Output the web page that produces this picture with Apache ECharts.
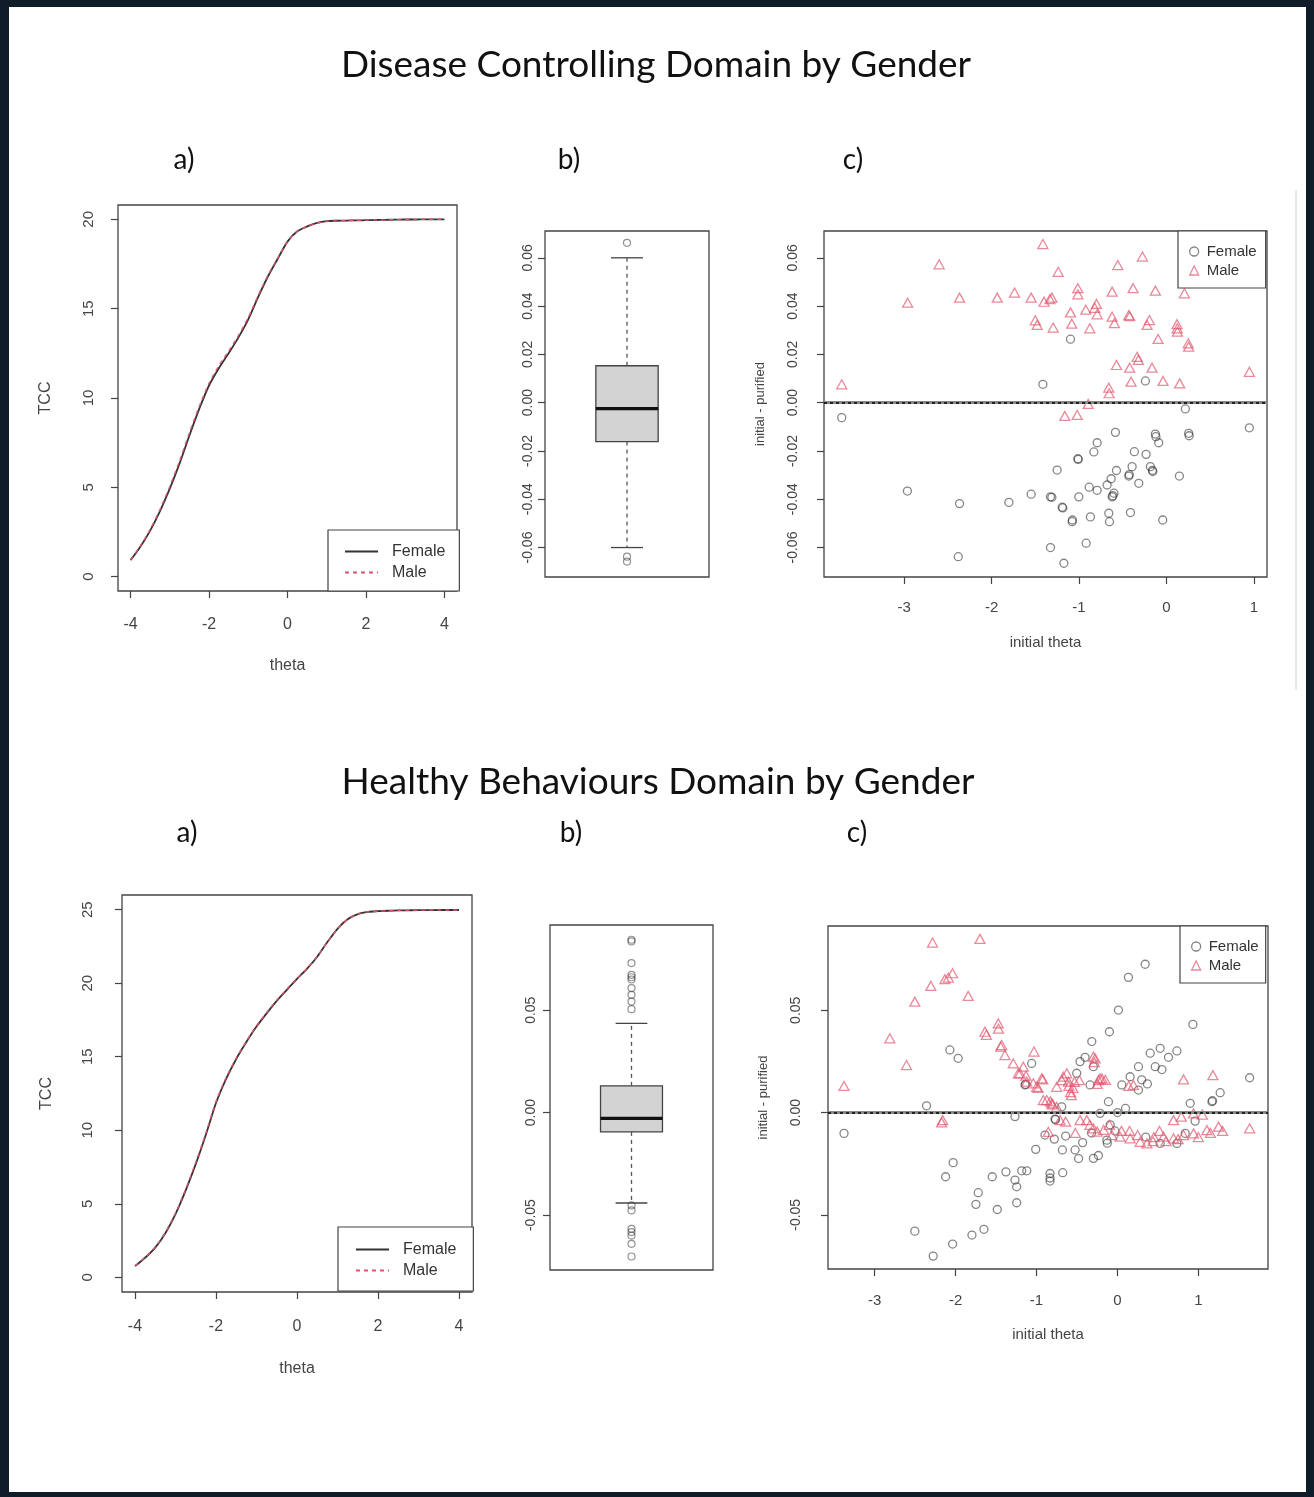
<!DOCTYPE html>
<html><head><meta charset="utf-8">
<script src="https://cdn.jsdelivr.net/npm/echarts@6/dist/echarts.min.js"></script>
<style>
html,body{margin:0;padding:0;background:#fff;}
#frame{position:absolute;left:0;top:0;width:1314px;height:1497px;box-sizing:border-box;border-style:solid;border-color:#0e1d29;border-width:7px 8px 5px 9px;background:#fff;}
#chart{position:absolute;left:0;top:0;width:1314px;height:1497px;}
</style></head><body>
<div id="frame"></div>
<div id="chart"></div>
<script>
// ---------- DATA ----------
const thetaGrid = [-4,-3.75,-3.5,-3.25,-3,-2.75,-2.5,-2.25,-2,-1.75,-1.5,-1.25,-1,-0.75,-0.5,-0.25,0,0.25,0.5,0.75,1,1.25,1.5,1.75,2,2.25,2.5,2.75,3,3.25,3.5,3.75,4];
const tccDiseaseFemale = [0.93,1.68,2.58,3.67,4.93,6.34,7.9,9.39,10.7,11.67,12.5,13.39,14.4,15.64,16.8,17.79,18.75,19.33,19.6,19.8,19.9,19.92,19.93,19.94,19.95,19.96,19.97,19.98,19.99,19.99,20,20,20];
const tccDiseaseMale   = [0.95,1.72,2.64,3.76,5.05,6.48,8.05,9.52,10.82,11.8,12.62,13.5,14.5,15.72,16.86,17.82,18.76,19.33,19.6,19.79,19.88,19.91,19.93,19.94,19.95,19.96,19.97,19.98,19.99,19.99,20,20,20];
const tccHealthyFemale = [0.76,1.33,2.02,3.0,4.3,5.9,7.7,9.7,11.85,13.5,14.85,16.0,17.05,17.95,18.8,19.55,20.3,21.0,21.8,22.8,23.7,24.35,24.7,24.85,24.9,24.93,24.95,24.96,24.97,24.97,24.98,24.98,24.98];
const tccHealthyMale   = [0.78,1.36,2.06,3.05,4.36,5.98,7.8,9.8,11.95,13.58,14.9,16.05,17.1,18.0,18.85,19.6,20.33,21.02,21.82,22.8,23.7,24.36,24.72,24.86,24.9,24.93,24.95,24.96,24.97,24.97,24.98,24.98,24.98];

const tccTicksX = [-4,-2,0,2,4];
const tccDiseaseTicksY = [0,5,10,15,20];
const tccHealthyTicksY = [0,5,10,15,20,25];
const diseaseTicksY = [-0.06,-0.04,-0.02,0,0.02,0.04,0.06];
const healthyTicksY = [-0.05,0,0.05];
const scatterTicksX = [-3,-2,-1,0,1];

// boxplot stats: lower whisker, Q1, median, Q3, upper whisker
const diseaseBoxStats = [-0.060,-0.0161,-0.0025,0.0153,0.060];
const diseaseBoxOutliers = [0.0662,-0.0638,-0.0658];
const healthyBoxStats = [-0.0441,-0.0094,-0.0028,0.0131,0.0436];
const healthyBoxOutliers = [0.0844,0.0836,0.073,0.0673,0.0661,0.065,0.0608,0.0575,0.0542,0.0505,-0.0453,-0.0477,-0.0567,-0.0583,-0.06,-0.064,-0.0702];

// [initial theta, initial - purified]
const diseaseFemale = [[-3.714,-0.0062],[-1.097,0.0263],[-1.413,0.0076],[-0.24,0.009],[0.217,-0.0026],[0.949,-0.0104],[-2.963,-0.0366],[-2.366,-0.0418],[-2.381,-0.0638],[-1.802,-0.0413],[-1.547,-0.0379],[-1.326,-0.039],[-1.31,-0.0392],[-1.25,-0.0279],[-1.192,-0.0433],[-1.185,-0.0436],[-1.326,-0.06],[-1.173,-0.0665],[-1.078,-0.0493],[-1.075,-0.0486],[-1.013,-0.0232],[-1.008,-0.0235],[-1.002,-0.039],[-0.918,-0.0582],[-0.869,-0.0473],[-0.883,-0.035],[-0.792,-0.0363],[-0.83,-0.0204],[-0.792,-0.0166],[-0.678,-0.0341],[-0.659,-0.0458],[-0.651,-0.0493],[-0.632,-0.0315],[-0.62,-0.039],[-0.612,-0.0385],[-0.6,-0.0375],[-0.571,-0.0281],[-0.583,-0.0123],[-0.43,-0.0304],[-0.425,-0.0298],[-0.411,-0.0455],[-0.392,-0.0265],[-0.366,-0.0203],[-0.316,-0.0334],[-0.232,-0.0214],[-0.183,-0.0265],[-0.16,-0.028],[-0.155,-0.0285],[-0.126,-0.013],[-0.12,-0.0141],[-0.088,-0.0166],[-0.042,-0.0486],[0.149,-0.0304],[0.255,-0.0127],[0.26,-0.0137]];
const diseaseMale = [[-3.714,0.0076],[-2.96,0.0414],[-2.60,0.0573],[-2.366,0.0435],[-1.935,0.0435],[-1.737,0.0456],[-1.547,0.0435],[-1.413,0.0657],[-1.40,0.0418],[-1.333,0.0429],[-1.31,0.0435],[-1.238,0.0542],[-1.50,0.0341],[-1.478,0.0322],[-1.295,0.0311],[-1.097,0.0374],[-1.082,0.0327],[-1.013,0.0474],[-1.013,0.0449],[-0.922,0.0385],[-0.876,0.0308],[-0.80,0.0409],[-0.792,0.0366],[-0.82,0.0393],[-0.621,0.0356],[-0.594,0.0329],[-0.621,0.046],[-0.556,0.057],[-0.43,0.0363],[-0.42,0.0358],[-0.381,0.0474],[-0.274,0.0605],[-0.221,0.0322],[-0.194,0.0342],[-0.126,0.0464],[-0.095,0.0264],[0.122,0.0325],[0.124,0.0308],[0.126,0.0294],[0.206,0.0453],[0.255,0.0232],[0.25,0.0246],[-0.571,0.0156],[-0.42,0.0145],[-0.335,0.019],[-0.32,0.0177],[-0.164,0.0145],[-0.404,0.0087],[-0.038,0.009],[0.152,0.008],[-0.659,0.0062],[-0.655,0.0039],[0.949,0.0128],[-0.895,-0.0005],[-1.162,-0.0055],[-1.02,-0.0051]];
const healthyFemale = [[-2.359,0.0033],[-2.071,0.0306],[-1.968,0.0265],[-1.06,0.024],[-1.142,0.0135],[-1.135,0.0138],[-0.317,0.0347],[-0.099,0.0395],[0.012,0.0501],[0.136,0.0661],[0.343,0.0725],[0.933,0.0431],[1.634,0.017],[0.405,0.029],[0.528,0.0314],[0.631,0.027],[0.735,0.0301],[0.467,0.0224],[0.55,0.021],[0.26,0.0224],[0.157,0.0175],[0.3,0.016],[0.26,0.011],[0.37,0.014],[0.054,0.0135],[-0.111,0.0053],[-0.462,0.0249],[-0.40,0.027],[-0.503,0.0192],[-0.297,0.0224],[-0.338,0.0135],[0.9,0.0045],[1.168,0.0053],[1.175,0.0058],[1.27,0.0097],[-0.688,0.0028],[-0.214,-0.0004],[0.0,0.0],[0.1,0.002],[-3.379,-0.0102],[-1.266,-0.002],[-0.771,-0.0032],[-0.765,-0.0035],[-2.03,-0.0245],[-2.124,-0.0314],[-1.72,-0.0392],[-1.749,-0.0449],[-1.547,-0.0314],[-1.378,-0.029],[-1.485,-0.0474],[-1.266,-0.033],[-1.245,-0.0363],[-1.245,-0.0441],[-1.183,-0.0285],[-1.12,-0.0285],[-1.65,-0.0571],[-1.798,-0.0599],[-2.037,-0.0643],[-2.504,-0.058],[-2.277,-0.0702],[-1.01,-0.018],[-0.833,-0.0298],[-0.833,-0.032],[-0.833,-0.0335],[-0.676,-0.0294],[-0.68,-0.0183],[-0.895,-0.011],[-0.78,-0.013],[-0.64,-0.0115],[-0.523,-0.0183],[-0.48,-0.0225],[-0.43,-0.0147],[-0.297,-0.0224],[-0.235,-0.021],[-0.32,-0.01],[-0.131,-0.0135],[-0.125,-0.015],[-0.09,-0.006],[-0.03,-0.009],[0.528,-0.0151],[0.735,-0.0151],[0.838,-0.0102],[0.96,-0.0042],[0.35,-0.012]];
const healthyMale = [[-3.379,0.013],[-2.813,0.0363],[-2.607,0.0232],[-2.504,0.0542],[-2.306,0.0619],[-2.285,0.0831],[-2.132,0.0652],[-2.037,0.0681],[-2.09,0.066],[-1.844,0.057],[-1.699,0.0849],[-1.637,0.0395],[-1.62,0.038],[-1.473,0.0436],[-1.47,0.041],[-1.443,0.0322],[-1.431,0.033],[-1.39,0.0281],[-1.287,0.024],[-1.225,0.0192],[-1.204,0.0192],[-1.163,0.0224],[-1.031,0.0298],[-1.13,0.018],[-1.121,0.0151],[-1.04,0.0143],[-0.998,0.0126],[-0.98,0.012],[-0.936,0.0167],[-0.923,0.0162],[-0.916,0.0061],[-0.874,0.0061],[-0.83,0.0055],[-0.812,0.0045],[-0.80,0.004],[-0.75,0.0028],[-0.75,0.0126],[-0.688,0.0159],[-0.668,0.0175],[-0.626,0.0192],[-0.606,0.0151],[-0.6,0.013],[-0.58,0.010],[-0.57,0.0085],[-0.55,0.012],[-0.53,0.015],[-0.47,0.0158],[-0.297,0.0273],[-0.285,0.0246],[-0.276,0.0265],[-0.235,0.0159],[-0.214,0.0167],[-0.19,0.0166],[-0.25,0.014],[-0.15,0.016],[0.14,0.013],[0.198,0.0135],[0.817,0.0162],[1.18,0.0183],[-2.16,-0.0037],[-2.173,-0.0048],[1.634,-0.0077],[-0.709,-0.0037],[-0.64,-0.0045],[-0.854,-0.0094],[-0.52,-0.01],[-0.462,-0.0037],[-0.379,-0.0037],[-0.34,-0.006],[-0.297,-0.0077],[-0.25,-0.0093],[-0.17,-0.0085],[-0.1,-0.006],[-0.069,-0.011],[0.033,-0.0118],[0.05,-0.009],[0.15,-0.009],[0.157,-0.0126],[0.25,-0.011],[0.281,-0.0143],[0.364,-0.0151],[0.44,-0.014],[0.45,-0.012],[0.52,-0.009],[0.569,-0.0118],[0.6,-0.014],[0.693,-0.0126],[0.693,-0.0037],[0.75,-0.013],[0.79,-0.002],[0.817,-0.011],[0.94,-0.0004],[0.941,-0.0102],[1.0,-0.012],[1.05,-0.001],[1.106,-0.0086],[1.15,-0.010],[1.25,-0.0069],[1.3,-0.009]];

// ---------- STYLE ----------
const FONT = 'Liberation Sans';
const AX = '#444';
const FEM_COL = 'rgba(45,45,45,0.72)';
const MALE_COL = 'rgba(223,83,107,0.85)';

function axis(gridIndex, min, max, ticks, labelSize, margin, fmt, extra) {
  const a = {
    type: 'value', gridIndex: gridIndex, min: min, max: max,
    axisLine: {show: false, onZero: false}, splitLine: {show: false},
    axisTick: {show: !!ticks, length: 7, lineStyle: {color: AX, width: 1.2}, customValues: ticks || undefined},
    axisLabel: {show: !!ticks, customValues: ticks || undefined, color: AX, fontFamily: FONT, fontSize: labelSize, margin: margin,
      formatter: fmt || function (v) { return String(v); }},
    nameLocation: 'middle',
    nameTextStyle: {color: AX, fontFamily: FONT, fontSize: 15}
  };
  return Object.assign(a, extra || {});
}
const f2 = v => v.toFixed(2);

function grid(l, t, w, h) {
  return {left: l, top: t, width: w, height: h, show: true, borderColor: '#444', borderWidth: 1.3,
    backgroundColor: 'transparent', containLabel: false, outerBoundsMode: 'none'};
}

function zip(xs, ys) { return xs.map((x, i) => [x, ys[i]]); }

function boxSeries(idx, stats) {
  return {
    type: 'custom', xAxisIndex: idx, yAxisIndex: idx, silent: true,
    data: [[1].concat(stats)],
    renderItem: function (params, api) {
      const xc = api.value(0), half = 0.19, cap = 0.0975;
      const lo = api.value(1), q1 = api.value(2), med = api.value(3), q3 = api.value(4), hi = api.value(5);
      const p = (x, y) => api.coord([x, y]);
      const ln = (a, b, st) => ({type: 'line', shape: {x1: a[0], y1: a[1], x2: b[0], y2: b[1]}, style: st});
      const solid = {stroke: '#444', lineWidth: 1.3};
      const dash = {stroke: '#555', lineWidth: 1.3, lineDash: [4, 4]};
      const tl = p(xc - half, q3), br = p(xc + half, q1);
      return {type: 'group', children: [
        ln(p(xc, q3), p(xc, hi), dash),
        ln(p(xc, q1), p(xc, lo), dash),
        ln(p(xc - cap, hi), p(xc + cap, hi), solid),
        ln(p(xc - cap, lo), p(xc + cap, lo), solid),
        {type: 'rect', shape: {x: tl[0], y: tl[1], width: br[0] - tl[0], height: br[1] - tl[1]},
          style: {fill: '#d3d3d3', stroke: '#444', lineWidth: 1.3}},
        ln(p(xc - half, med), p(xc + half, med), {stroke: '#111', lineWidth: 3.2})
      ]};
    }
  };
}

function outlierSeries(idx, vals) {
  return {type: 'scatter', xAxisIndex: idx, yAxisIndex: idx, silent: true, symbol: 'circle', symbolSize: 7,
    itemStyle: {color: 'rgba(0,0,0,0)', borderColor: 'rgba(60,60,60,0.7)', borderWidth: 1.2},
    data: vals.map(v => [1, v])};
}

function tccSeries(idx, fem, male) {
  return [
    {name: 'TCC Female', type: 'line', xAxisIndex: idx, yAxisIndex: idx, data: zip(thetaGrid, fem), symbol: 'none',
      smooth: 0.25, silent: true, lineStyle: {color: '#333', width: 1.8, type: 'solid'}, itemStyle: {color: '#333'}},
    {name: 'TCC Male', type: 'line', xAxisIndex: idx, yAxisIndex: idx, data: zip(thetaGrid, male), symbol: 'none',
      smooth: 0.25, silent: true, lineStyle: {color: '#DF536B', width: 1.4, type: [4, 4]}, itemStyle: {color: '#DF536B'}}
  ];
}

function zeroLine() {
  return {silent: true, symbol: 'none', label: {show: false}, animation: false,
    data: [
      {yAxis: 0, lineStyle: {color: '#8a8a8a', width: 3, type: 'solid'}},
      {yAxis: 0, lineStyle: {color: '#222', width: 2, type: [3, 3]}}
    ]};
}

function scatterSeries(idx, fem, male) {
  return [
    {name: 'Female', type: 'scatter', xAxisIndex: idx, yAxisIndex: idx, silent: true, symbol: 'circle', symbolSize: 8,
      itemStyle: {color: 'rgba(0,0,0,0)', borderColor: FEM_COL, borderWidth: 1.3}, data: fem, markLine: zeroLine()},
    {name: 'Male', type: 'scatter', xAxisIndex: idx, yAxisIndex: idx, silent: true, symbol: 'triangle', symbolSize: [10, 9],
      itemStyle: {color: 'rgba(0,0,0,0)', borderColor: MALE_COL, borderWidth: 1.3}, data: male}
  ];
}

function tccLegend(left, top, pad) {
  return {show: true, orient: 'vertical', left: left, top: top, selectedMode: false,
    data: ['TCC Female', 'TCC Male'], formatter: n => n.replace('TCC ', ''),
    itemWidth: 33, itemHeight: 10, itemGap: 0, padding: pad,
    itemStyle: {color: 'rgba(0,0,0,0)', borderWidth: 0, opacity: 0},
    borderColor: '#444', borderWidth: 1.2, borderRadius: 0, backgroundColor: '#fff',
    textStyle: {fontFamily: FONT, fontSize: 16, color: '#333', lineHeight: 21, padding: [0, 0, 0, 9]}};
}
function scLegend(left, top, pad) {
  return {show: true, orient: 'vertical', left: left, top: top, selectedMode: false,
    data: ['Female', 'Male'], itemWidth: 9, itemHeight: 9, itemGap: 0, padding: pad,
    itemStyle: {borderWidth: 1.3},
    borderColor: '#444', borderWidth: 1.2, borderRadius: 0, backgroundColor: '#fff',
    textStyle: {fontFamily: FONT, fontSize: 15, color: '#333', lineHeight: 19, padding: [0, 0, 0, 3]}};
}

function txt(x, y, s, size, extra) {
  return Object.assign({type: 'text', x: x, y: y, silent: true,
    style: {text: s, font: size + 'px Lato', fill: '#111', textAlign: 'center', textVerticalAlign: 'middle'}}, extra || {});
}

const option = {
  animation: false,
  backgroundColor: 'transparent',
  grid: [
    grid(118, 205, 339, 386),
    grid(545, 231, 164, 346),
    grid(824, 231, 443, 346),
    grid(122, 895, 350, 397),
    grid(550, 925, 163, 345),
    grid(828, 926, 440, 343)
  ],
  xAxis: [
    axis(0, -4.32, 4.32, tccTicksX, 16, 26, null, {name: 'theta', nameGap: 67, nameTextStyle: {color: AX, fontFamily: FONT, fontSize: 16}}),
    axis(1, 0.5, 1.5, null, 14, 10),
    axis(2, -3.917, 1.151, scatterTicksX, 15, 23, null, {name: 'initial theta', nameGap: 58}),
    axis(3, -4.32, 4.32, tccTicksX, 16, 27, null, {name: 'theta', nameGap: 69, nameTextStyle: {color: AX, fontFamily: FONT, fontSize: 16}}),
    axis(4, 0.5, 1.5, null, 14, 10),
    axis(5, -3.577, 1.861, scatterTicksX, 15, 24, null, {name: 'initial theta', nameGap: 58})
  ],
  yAxis: [
    axis(0, -0.8, 20.8, tccDiseaseTicksY, 15, 22, null, {name: 'TCC', nameGap: 64, nameTextStyle: {color: AX, fontFamily: FONT, fontSize: 16}}),
    axis(1, -0.0722, 0.0711, diseaseTicksY, 14, 10, f2),
    axis(2, -0.0722, 0.0711, diseaseTicksY, 14, 24, f2, {name: 'initial - purified', nameGap: 57, nameTextStyle: {color: AX, fontFamily: FONT, fontSize: 13}}),
    axis(3, -1, 26, tccHealthyTicksY, 15, 27, null, {name: 'TCC', nameGap: 67, nameTextStyle: {color: AX, fontFamily: FONT, fontSize: 16}}),
    axis(4, -0.0768, 0.0916, healthyTicksY, 14, 12, f2),
    axis(5, -0.0765, 0.0912, healthyTicksY, 14, 25, f2, {name: 'initial - purified', nameGap: 58, nameTextStyle: {color: AX, fontFamily: FONT, fontSize: 13}})
  ],
  legend: [
    tccLegend(328, 530, [11, 14, 8, 16]),
    tccLegend(338, 1227, [12, 17, 10, 17]),
    scLegend(1178, 231, [11, 9, 8, 11]),
    scLegend(1180, 926, [11, 7, 8, 11])
  ],
  graphic: [
    txt(656, 65, 'Disease Controlling Domain by Gender', 37),
    txt(184, 160, 'a)', 28), txt(569, 160, 'b)', 28), txt(853, 160, 'c)', 28),
    txt(658, 782, 'Healthy Behaviours Domain by Gender', 37),
    txt(187, 833, 'a)', 28), txt(571, 833, 'b)', 28), txt(857, 833, 'c)', 28),
    {type: 'line', silent: true, shape: {x1: 1296, y1: 190, x2: 1296, y2: 690}, style: {stroke: '#d0d0d0', lineWidth: 1}}
  ],
  series: [].concat(
    tccSeries(0, tccDiseaseFemale, tccDiseaseMale),
    [boxSeries(1, diseaseBoxStats), outlierSeries(1, diseaseBoxOutliers)],
    scatterSeries(2, diseaseFemale, diseaseMale),
    tccSeries(3, tccHealthyFemale, tccHealthyMale),
    [boxSeries(4, healthyBoxStats), outlierSeries(4, healthyBoxOutliers)],
    scatterSeries(5, healthyFemale, healthyMale)
  )
};
// rotate y labels like R (las=0)
option.yAxis.forEach(a => { a.axisLabel.rotate = 90; });

const chart = echarts.init(document.getElementById('chart'), null, {renderer: 'canvas'});
chart.setOption(option);
</script>
</body></html>
